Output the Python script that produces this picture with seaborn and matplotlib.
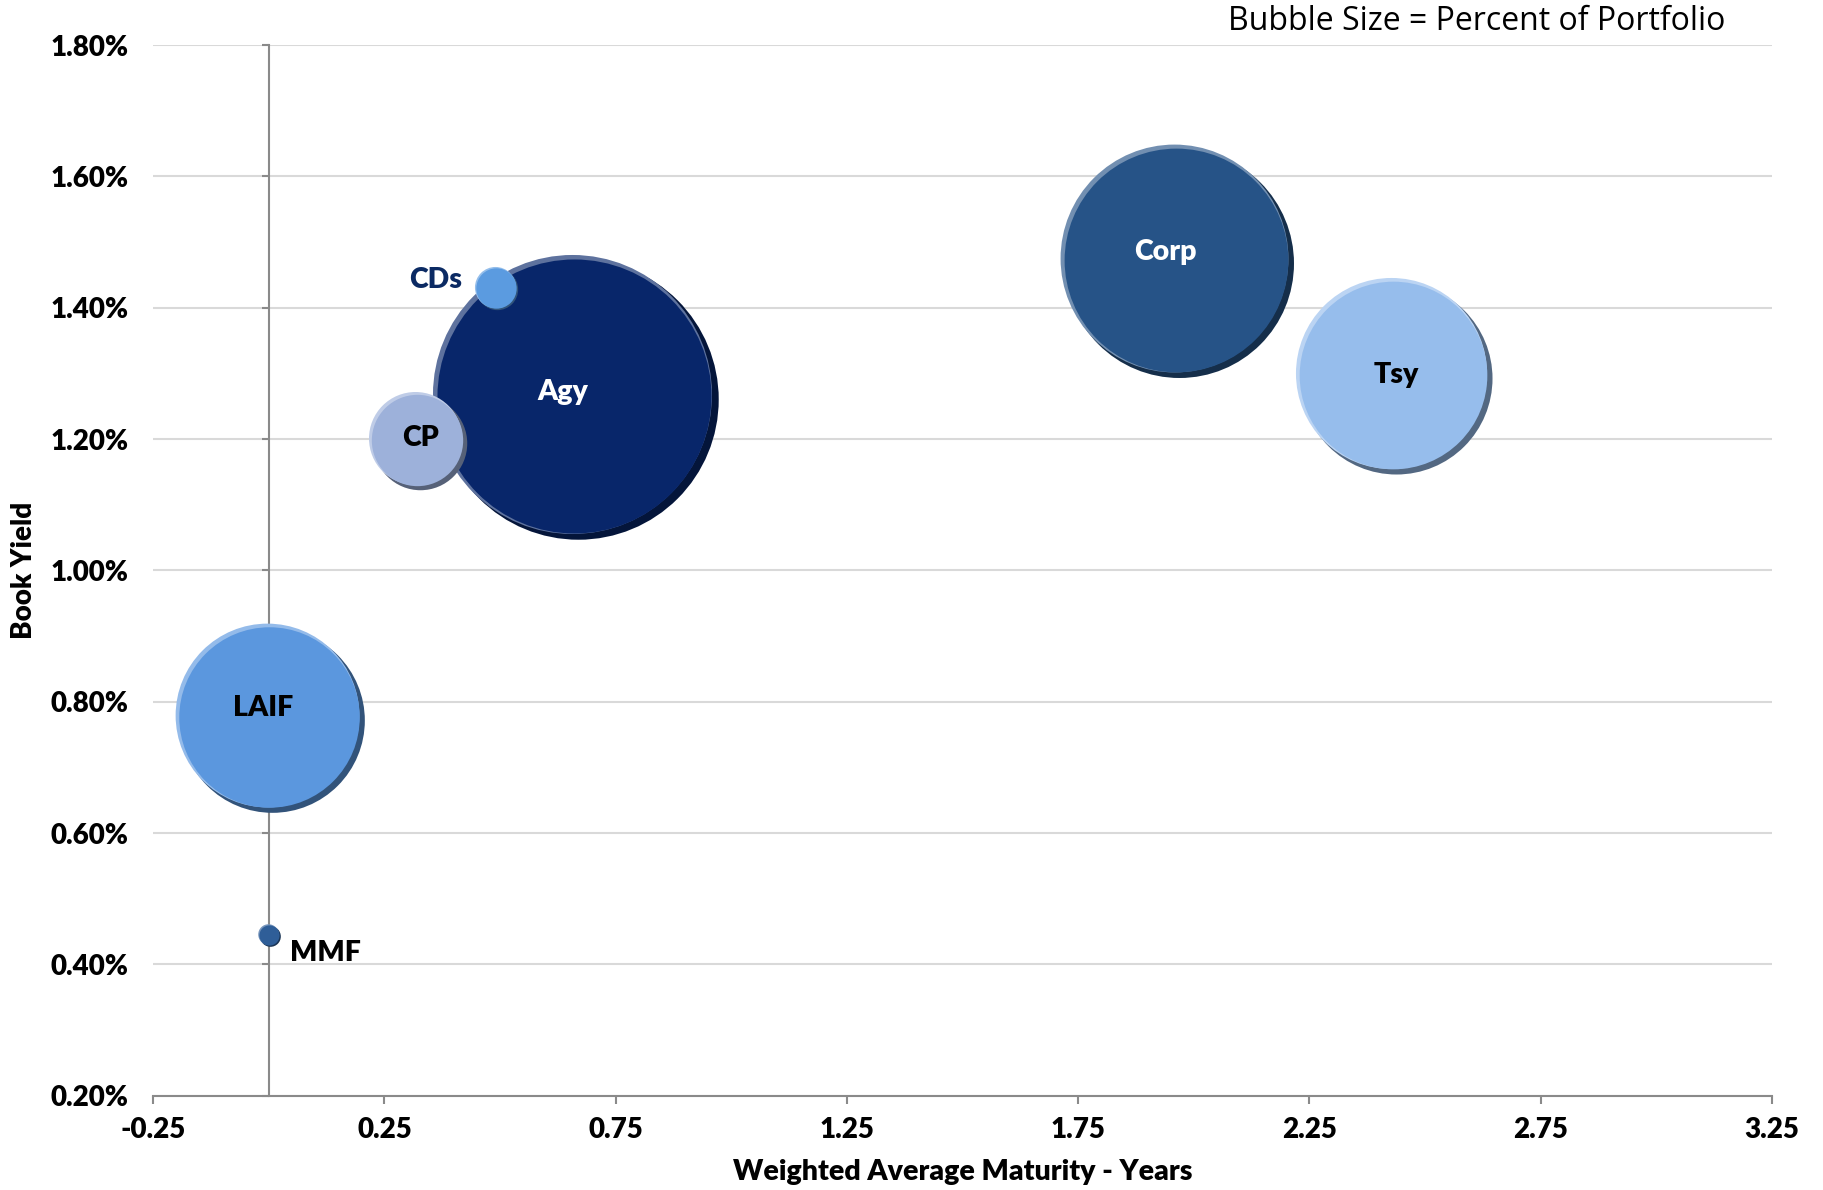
import matplotlib
matplotlib.use("Agg")
import matplotlib.pyplot as plt
import matplotlib.colors as mcolors
from matplotlib.transforms import ScaledTranslation
from matplotlib.ticker import StrMethodFormatter
import seaborn as sns
import pandas as pd

# values
sectors = ["MMF", "LAIF", "CDs", "CP", "Agy", "Corp", "Tsy"]
wam_years = [0.00, 0.00, 0.49, 0.32, 0.66, 1.96, 2.43]
book_yield = [0.445, 0.778, 1.431, 1.199, 1.266, 1.474, 1.298]
pct_portfolio = [0.2, 16.0, 0.8, 4.1, 36.9, 24.6, 17.3]

x_ticks = [-0.25, 0.25, 0.75, 1.25, 1.75, 2.25, 2.75, 3.25]
y_ticks = [0.2, 0.4, 0.6, 0.8, 1.0, 1.2, 1.4, 1.6, 1.8]

# styling per sector: bubble colour, label colour, label placement (offset pts, ha)
style = {
    "MMF":  ("#2F5E98", "black",   (15, -13), "left"),
    "LAIF": ("#5B97DE", "black",   (-4, 6),   "center"),
    "CDs":  ("#5B9BE0", "#0B2A63", (-24, 5),  "right"),
    "CP":   ("#9DB1DA", "black",   (3, 1),    "center"),
    "Agy":  ("#08266A", "white",   (-8, 3),   "center"),
    "Corp": ("#265387", "white",   (-7, 5),   "center"),
    "Tsy":  ("#96BDEC", "black",   (3, 0),    "center"),
}

df = pd.DataFrame({"sector": sectors, "wam": wam_years,
                   "yield": book_yield, "pct": pct_portfolio})
df = df.sort_values("pct", ascending=False).reset_index(drop=True)

sns.set_theme(style="white")
plt.rcParams["font.family"] = ["Lato", "DejaVu Sans"]
plt.rcParams["axes.unicode_minus"] = False

fig = plt.figure(figsize=(18.24, 11.90), dpi=100)
ax = fig.add_axes([0.0840, 0.0792, 0.8874, 0.8829])

SMAX = 44200  # marker area (pt^2) for 40% of portfolio
HEAVY = "heavy"


def shade(col, f):
    r, g, b = mcolors.to_rgb(col)
    if f < 1:
        return (r * f, g * f, b * f)
    return (r + (1 - r) * (f - 1), g + (1 - g) * (f - 1), b + (1 - b) * (f - 1))


layers = [
    # (colour factor, size factor, dx pt, dy pt)
    (0.55, 1.00, 2.5, -2.5),
    (1.35, 0.99, -1.2, 1.2),
    (1.00, 0.955, 0.3, -0.3),
]

for i in range(len(df)):
    row = df.iloc[[i]]
    base = style[row["sector"].iloc[0]][0]
    # keep the bevel offset proportionate on the tiny bubbles
    k = min(1.0, (row["pct"].iloc[0] / 4.0) ** 0.5)
    for cf, sf, dx, dy in layers:
        sns.scatterplot(data=row, x="wam", y="yield", size="pct",
                        sizes=(0, SMAX * sf), size_norm=(0, 40),
                        color=shade(base, cf), linewidth=0, alpha=1,
                        legend=False, ax=ax, zorder=3)
        coll = ax.collections[-1]
        coll.set_offset_transform(
            ax.transData + ScaledTranslation(k * dx / 72, k * dy / 72,
                                             fig.dpi_scale_trans))

for _, r in df.iterrows():
    col, lcol, off, ha = style[r["sector"]]
    ax.annotate(r["sector"], (r["wam"], r["yield"]), xytext=off,
                textcoords="offset points", ha=ha, va="center",
                fontsize=20.5, fontweight=HEAVY, color=lcol, zorder=5)

ax.set_xlim(-0.25, 3.25)
ax.set_ylim(0.2, 1.8)
ax.set_xticks(x_ticks)
ax.set_yticks(y_ticks)
ax.yaxis.set_major_formatter(StrMethodFormatter("{x:.2f}%"))
ax.xaxis.set_major_formatter(StrMethodFormatter("{x:.2f}"))

ax.grid(axis="y", color="#D9D9D9", linewidth=1.5)
ax.grid(axis="x", visible=False)
ax.set_axisbelow(True)

for side in ["top", "right"]:
    ax.spines[side].set_visible(False)
ax.spines["left"].set_position(("data", 0))
for side in ["left", "bottom"]:
    ax.spines[side].set_color("#8A8A8A")
    ax.spines[side].set_linewidth(1.5)
    ax.spines[side].set_zorder(1)

ax.tick_params(axis="x", direction="out", length=6, width=1.5, color="#8A8A8A",
               pad=9, labelsize=20, bottom=True)
ax.tick_params(axis="y", direction="out", length=5, width=1.5, color="#8A8A8A",
               pad=96, labelsize=20, left=True)
for lab in ax.get_xticklabels() + ax.get_yticklabels():
    lab.set_fontweight(HEAVY)
    lab.set_color("black")

ax.set_xlabel("Weighted Average Maturity - Years", fontsize=20.5,
              fontweight=HEAVY, color="black")
ax.set_ylabel("Book Yield", fontsize=20, fontweight=HEAVY, color="black")
ax.xaxis.set_label_coords(0.5, -0.06)
ax.yaxis.set_label_coords(-0.072, 0.5)

fig.text(0.9457, 0.982, "Bubble Size = Percent of Portfolio", ha="right",
         va="center", fontsize=23, color="black", family="Open Sans")

fig.savefig("out.png", dpi=100)
